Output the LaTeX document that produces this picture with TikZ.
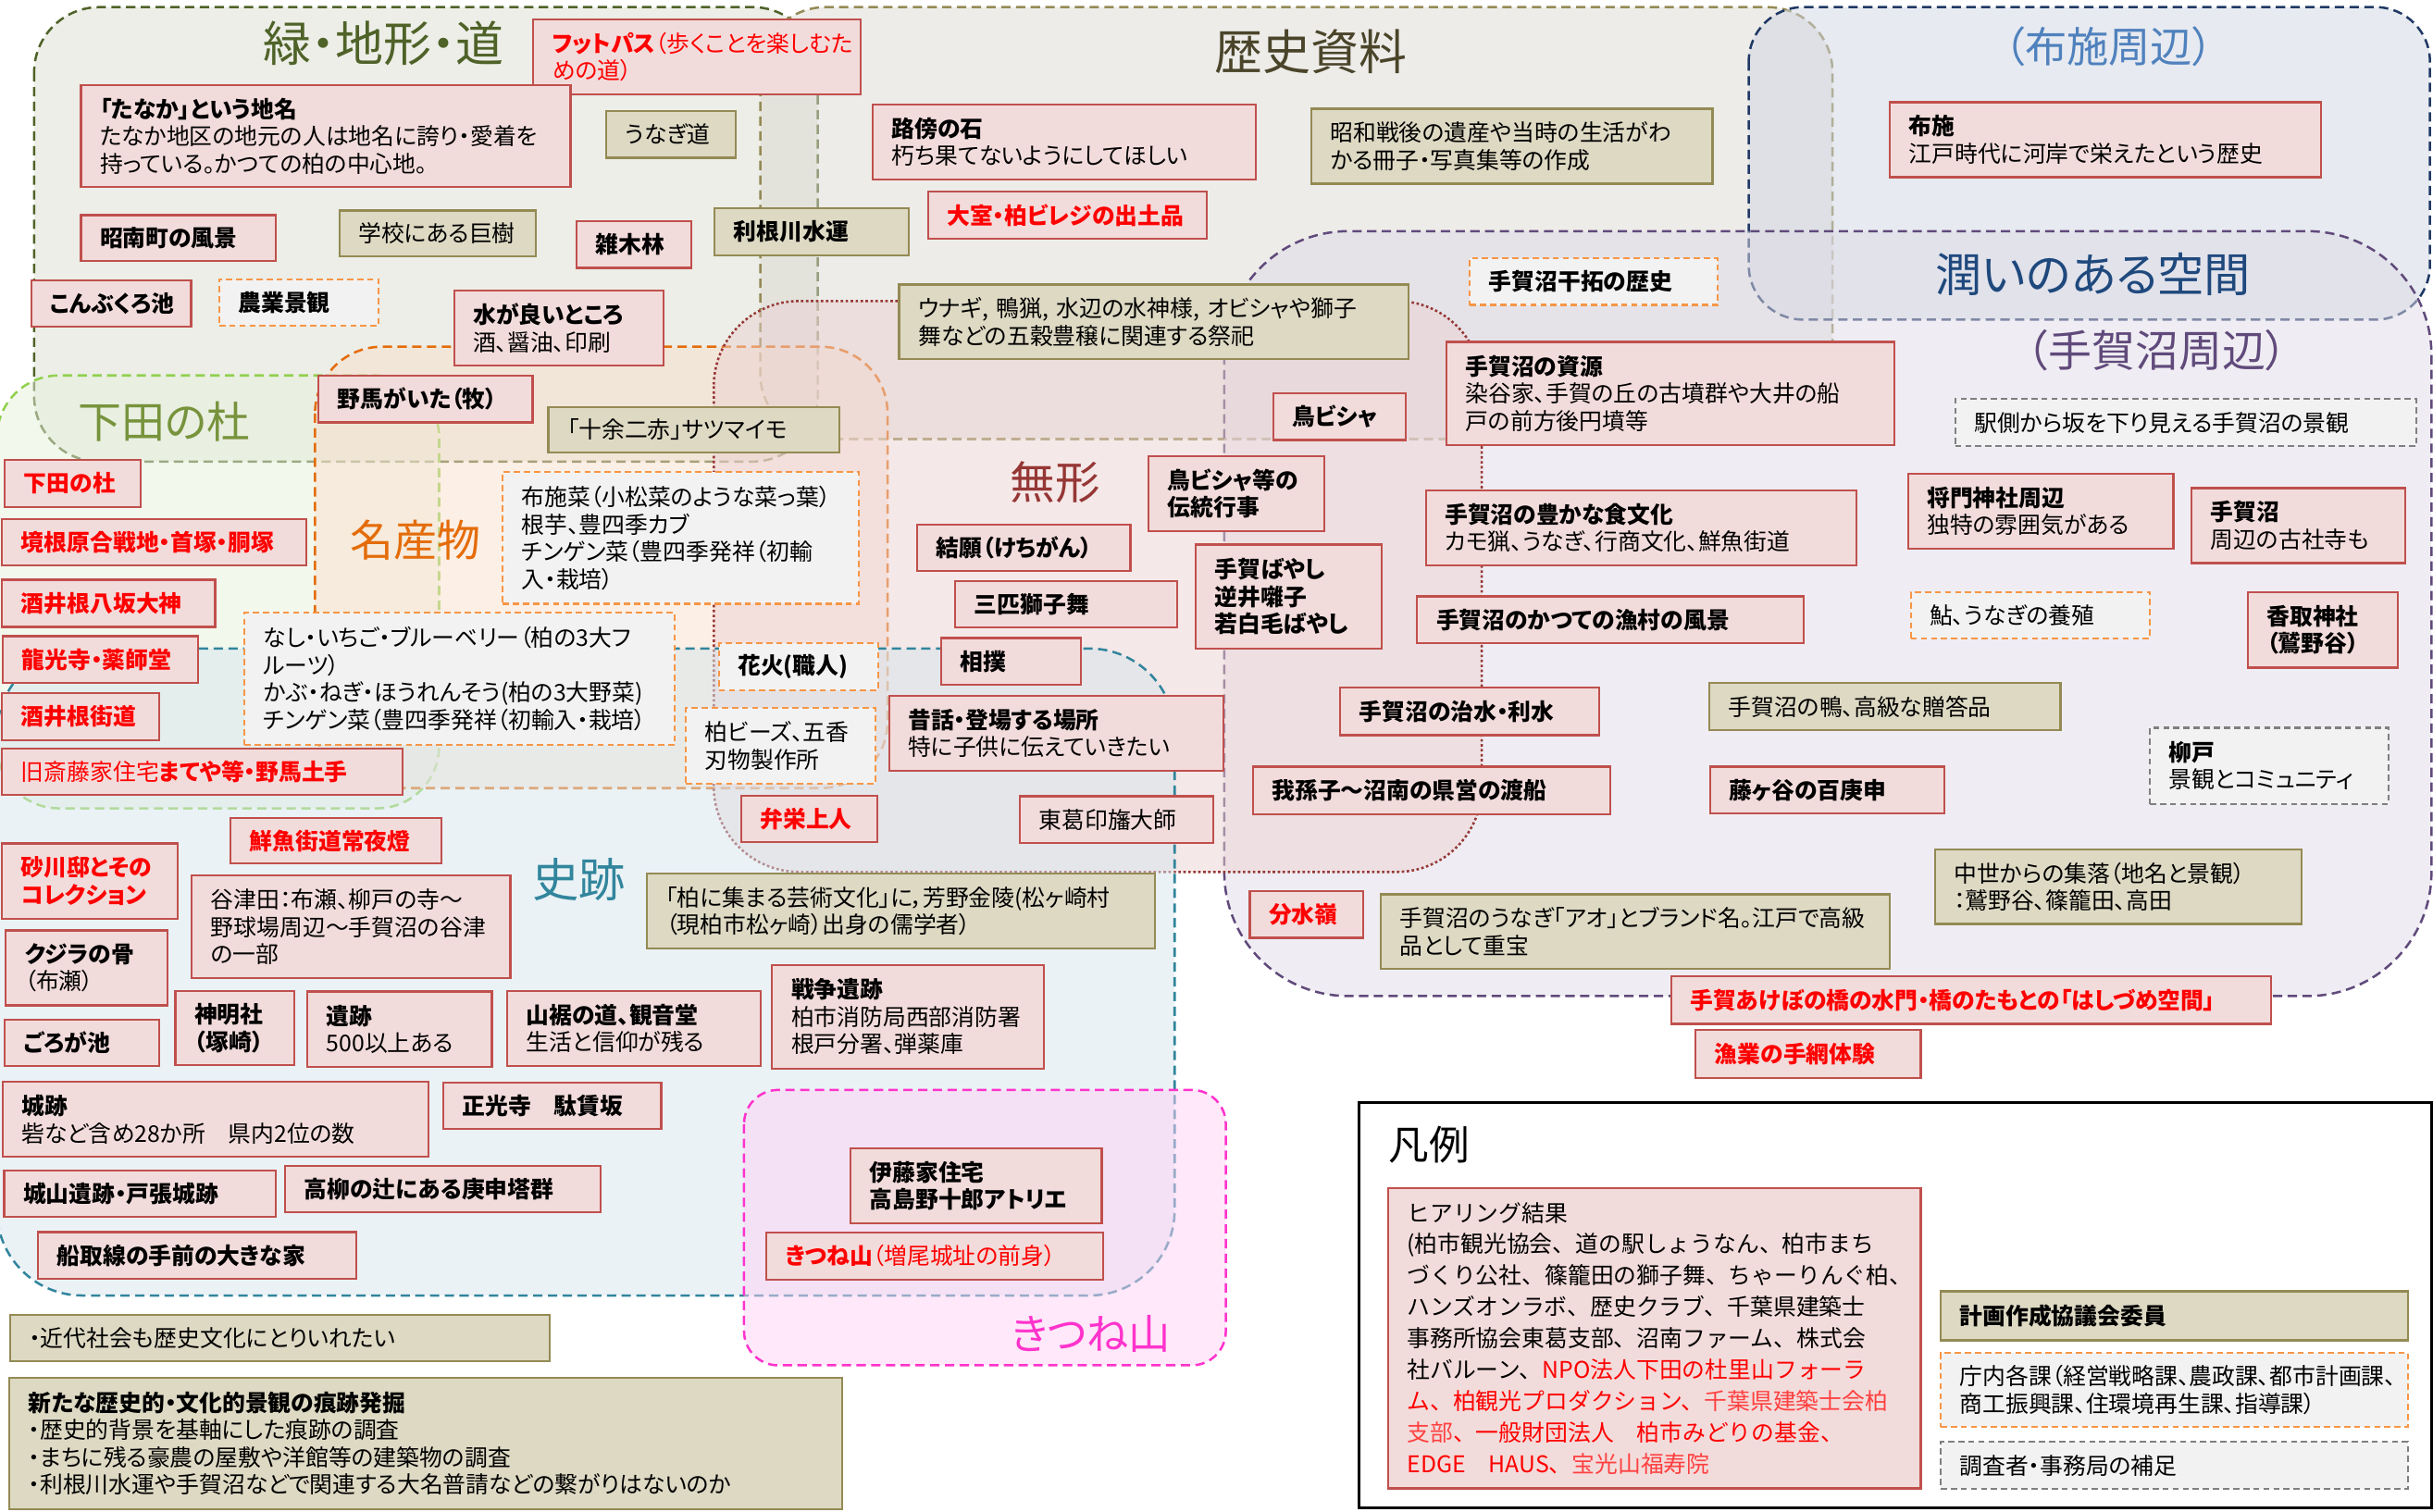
\documentclass[tikz,border=0pt]{standalone}
\usepackage{fontspec}
\setmainfont{Noto Sans CJK JP}[RawFeature={+palt}]
\newfontfamily\legfont{Noto Sans CJK JP}
\definecolor{pkfill}{HTML}{F2DCDB}
\definecolor{pkline}{HTML}{C0504D}
\definecolor{tnfill}{HTML}{DDD9C3}
\definecolor{tnline}{HTML}{948A54}
\definecolor{dfill}{HTML}{F2F2F2}
\definecolor{odline}{HTML}{F79646}
\definecolor{gdline}{HTML}{7F7F7F}
\definecolor{redtxt}{HTML}{FF0000}
\definecolor{lredtxt}{HTML}{FF4040}
\definecolor{gfill}{HTML}{D9DDCF}\definecolor{gline}{HTML}{4F6228}
\definecolor{hfill}{HTML}{DBD9D3}\definecolor{hline}{HTML}{948A54}
\definecolor{ffill}{HTML}{CFD5E1}\definecolor{fline}{HTML}{1F3864}
\definecolor{tfill}{HTML}{DFDBE7}\definecolor{tline}{HTML}{604A7B}
\definecolor{sfill}{HTML}{E7F1DB}\definecolor{sline}{HTML}{92D050}
\definecolor{mfill}{HTML}{F9DFCB}\definecolor{mline}{HTML}{E46C0A}
\definecolor{wfill}{HTML}{EBD1D1}\definecolor{wline}{HTML}{953735}
\definecolor{jfill}{HTML}{D5E5ED}\definecolor{jline}{HTML}{31859C}
\definecolor{kfill}{HTML}{FFD1F5}\definecolor{kline}{HTML}{FF33CC}
\definecolor{ttlhist}{HTML}{4A452A}
\definecolor{ttlfuse}{HTML}{4F81BD}
\definecolor{ttluru}{HTML}{1F497D}
\definecolor{ttlshimo}{HTML}{77933C}
\newcommand\fs{\fontsize{14.8}{17.6}\selectfont}
\newcommand\fsleg{\legfont\fontsize{14.8}{20.2}\selectfont}
\tikzset{
 bxbase/.style={anchor=north west, inner xsep=12.3pt, inner ysep=1pt, align=left, line width=1.3pt, font=\fs, text=black},
 pk/.style={bxbase, fill=pkfill, draw=pkline},
 tn/.style={bxbase, fill=tnfill, draw=tnline},
 od/.style={bxbase, fill=dfill, draw=odline, dash pattern=on 4pt off 2.5pt},
 gd/.style={bxbase, fill=dfill, draw=gdline, dash pattern=on 4pt off 2.5pt},
 rd/.style={text=redtxt},
 reg/.style={line width=1.5pt, fill opacity=0.5, dash pattern=on 6pt off 3.5pt},
 ttl/.style={inner sep=0pt},
}
\newcommand\Bx[7]{%
  \pgfmathsetmacro\bxh{#6-#4}%
  \pgfmathsetmacro\bxt{#5-#3-24.6}%
  \node[#2, minimum height=\bxh pt, text width=\bxt pt] (#1) at (#3,#4) {#7};}
\newcommand\Reg[8]{\draw[reg, rounded corners=#5pt, fill=#6, draw=#7, #8] (#1,#2) rectangle (#3,#4);}
\begin{document}
\begin{tikzpicture}[x=1pt,y=-1pt]
\useasboundingbox (0,0) rectangle (1568,974);
\clip (0,0) rectangle (1568,974);
% regions
\Reg{22}{4.6}{527}{297.5}{42}{gfill}{gline}{}
\Reg{490}{4.6}{1181}{283}{42}{hfill}{hline}{}
\Reg{1127}{4.6}{1566}{206}{35}{ffill}{fline}{}
\Reg{789}{149}{1567}{642}{80}{tfill}{tline}{}
\Reg{-2}{242}{283}{521}{40}{sfill}{sline}{}
\Reg{203}{223.5}{572}{508}{43}{mfill}{mline}{}
\Reg{460}{194}{955}{562}{55}{wfill}{wline}{dash pattern=on 1.6pt off 1.6pt}
\Reg{-2}{418}{757}{835}{55}{jfill}{jline}{}
\Reg{479.5}{702.5}{790}{880}{22}{kfill}{kline}{}
% titles
\node[ttl, text=gline, font=\fontsize{31}{31}\selectfont] (tmidori) at (247,28) {緑・地形・道};
\node[ttl, text=ttlhist, font=\fontsize{31}{31}\selectfont] (trekishi) at (845,33) {歴史資料};
\node[ttl, text=ttlfuse, font=\fontsize{27}{27}\selectfont] (tfuse) at (1359,30) {（布施周辺）};
\node[ttl, text=ttluru, font=\fontsize{30}{30}\selectfont] (turu) at (1349,177) {潤いのある空間};
\node[ttl, text=tline, font=\fontsize{28}{28}\selectfont] (ttega) at (1390,226) {（手賀沼周辺）};
\node[ttl, text=ttlshimo, font=\fontsize{28}{28}\selectfont] (tshimoda) at (106,272) {下田の杜};
\node[ttl, text=mline, font=\fontsize{28}{28}\selectfont] (tmeisan) at (268,348) {名産物};
\node[ttl, text=wline, font=\fontsize{29}{29}\selectfont] (tmukei) at (680,311) {無形};
\node[ttl, text=jline, font=\fontsize{30}{30}\selectfont] (tshiseki) at (373,567) {史跡};
\node[ttl, text=kline, font=\fontsize{27}{27}\selectfont] (tkitsune) at (703,860) {きつね山};
% legend frame
\draw[line width=1.8pt] (876,710.5) rectangle (1567,972);
\node[ttl, font=\fontsize{26}{26}\selectfont] (thanrei) at (921,738) {凡例};
% boxes
\Bx{fp}{pk,rd}{343}{12}{554}{60}{{\bfseries フットパス}（歩くことを楽しむた\\めの道）}
\Bx{tanaka}{pk}{51.5}{54}{367}{120}{{\bfseries 「たなか」という地名}\\たなか地区の地元の人は地名に誇り・愛着を\\持っている。かつての柏の中心地。}
\Bx{shonan}{pk}{51.5}{138}{177}{167.5}{\bfseries 昭南町の風景}
\Bx{kyoju}{tn}{218}{135}{344.6}{164.8}{学校にある巨樹}
\Bx{konbu}{pk}{19.6}{180}{122.5}{209.8}{\bfseries こんぶくろ池}
\Bx{nogyo}{od}{140.6}{179.3}{243.5}{209.4}{\bfseries 農業景観}
\Bx{mizu}{pk}{292}{186.6}{427}{235}{{\bfseries 水が良いところ}\\酒、醤油、印刷}
\Bx{noma}{pk}{204.6}{241.5}{342.6}{271.6}{\bfseries 野馬がいた（牧）}
\Bx{jyuyo}{tn}{352.7}{261.6}{540.4}{291}{「十余二赤」サツマイモ}
\Bx{unagimichi}{tn}{390}{71}{473.4}{101}{うなぎ道}
\Bx{zoki}{pk}{371}{142}{445}{172}{\bfseries 雑木林}
\Bx{tone}{tn}{460}{133.7}{585.1}{163.8}{\bfseries 利根川水運}
\Bx{robo}{pk}{561.8}{66.8}{808.5}{115}{{\bfseries 路傍の石}\\朽ち果てないようにしてほしい}
\Bx{omuro}{pk,rd}{597.4}{122.7}{777.1}{153.4}{\bfseries 大室・柏ビレジの出土品}
\Bx{unagi}{tn}{578.8}{182.8}{907}{230.7}{ウナギ,~鴨猟,~水辺の水神様,~オビシャや獅子\\舞などの五穀豊穣に関連する祭祀}
\Bx{showa}{tn}{844.4}{69.4}{1103}{117.7}{昭和戦後の遺産や当時の生活がわ\\かる冊子・写真集等の作成}
\Bx{kantaku}{od}{946.6}{165.8}{1106.5}{195.9}{\bfseries 手賀沼干拓の歴史}
\Bx{fuse}{pk}{1217.4}{65.3}{1495}{113.6}{{\bfseries 布施}\\江戸時代に河岸で栄えたという歴史}
\Bx{tobisha}{pk}{819.8}{252.9}{905.2}{283}{\bfseries 鳥ビシャ}
\Bx{shigen}{pk}{931.5}{219.7}{1220.4}{286}{{\bfseries 手賀沼の資源}\\染谷家、手賀の丘の古墳群や大井の船\\戸の前方後円墳等}
\Bx{ekigawa}{gd}{1259.4}{256.6}{1556.7}{287}{駅側から坂を下り見える手賀沼の景観}
\Bx{masakado}{pk}{1229}{304.7}{1400}{353}{{\bfseries 将門神社周辺}\\独特の雰囲気がある}
\Bx{tegaright}{pk}{1411.7}{314}{1549.3}{362.3}{{\bfseries 手賀沼}\\周辺の古社寺も}
\Bx{shimoda}{pk,rd}{2.5}{296}{90}{326}{\bfseries 下田の杜}
\Bx{sakane}{pk,rd}{0.75}{333.7}{197}{364}{\bfseries 境根原合戦地・首塚・胴塚}
\Bx{yasaka}{pk,rd}{0.75}{373}{138}{403.4}{\bfseries 酒井根八坂大神}
\Bx{ryuko}{pk,rd}{1.25}{409.4}{126.8}{439.4}{\bfseries 龍光寺・薬師堂}
\Bx{kaido}{pk,rd}{0.75}{446.3}{102}{476.3}{\bfseries 酒井根街道}
\Bx{saito}{pk,rd}{0.75}{482}{259}{511.6}{旧斎藤家住宅{\bfseries まてや等・野馬土手}}
\Bx{fusena}{od}{323.3}{303.7}{553}{388.5}{布施菜（小松菜のような菜っ葉）\\根芋、豊四季カブ\\チンゲン菜（豊四季発祥（初輸\\入・栽培）}
\Bx{nashi}{od}{156.9}{394.4}{434.3}{479.4}{なし・いちご・ブルーベリー（柏の3大フ\\ルーツ）\\かぶ・ねぎ・ほうれんそう(柏の3大野菜)\\チンゲン菜（豊四季発祥（初輸入・栽培）}
\Bx{hanabi}{od}{462.6}{414}{565.5}{444.2}{\bfseries 花火(職人)}
\Bx{beads}{od}{441.3}{455.6}{563.8}{504.3}{柏ビーズ、五香\\刃物製作所}
\Bx{kechi}{pk}{590.6}{337.4}{727.9}{367.5}{\bfseries 結願（けちがん）}
\Bx{sanbiki}{pk}{615}{374}{758}{403.8}{\bfseries 三匹獅子舞}
\Bx{sumo}{pk}{606}{410.6}{696}{440.7}{\bfseries 相撲}
\Bx{dento}{pk}{739.5}{293.3}{853}{341.6}{\bfseries 鳥ビシャ等の\\伝統行事}
\Bx{hayashi}{pk}{770}{350.3}{889.6}{417.2}{\bfseries 手賀ばやし\\逆井囃子\\若白毛ばやし}
\Bx{mukashi}{pk}{572.3}{447.7}{788}{496}{{\bfseries 昔話・登場する場所}\\特に子供に伝えていきたい}
\Bx{benei}{pk,rd}{477}{512.2}{564.8}{542.3}{\bfseries 弁栄上人}
\Bx{daishi}{pk}{656.6}{512.6}{781.4}{542.7}{東葛印旛大師}
\Bx{shoku}{pk}{918.2}{315.5}{1196}{364}{{\bfseries 手賀沼の豊かな食文化}\\カモ猟、うなぎ、行商文化、鮮魚街道}
\Bx{gyoson}{pk}{912.7}{383.7}{1161.7}{414}{\bfseries 手賀沼のかつての漁村の風景}
\Bx{chisui}{pk}{863}{442.7}{1030.2}{473.2}{\bfseries 手賀沼の治水・利水}
\Bx{tosen}{pk}{806.8}{493.5}{1037.2}{524}{\bfseries 我孫子～沼南の県営の渡船}
\Bx{ayu}{od}{1230.8}{381}{1384.8}{411}{鮎、うなぎの養殖}
\Bx{katori}{pk}{1448}{381}{1544.6}{429.7}{\bfseries 香取神社\\（鷲野谷）}
\Bx{kamo}{tn}{1101}{439.6}{1327.3}{470}{手賀沼の鴨、高級な贈答品}
\Bx{yanagido}{gd}{1384.8}{468.4}{1538.9}{517.4}{{\bfseries 柳戸}\\景観とコミュニティ}
\Bx{koshin}{pk}{1101.5}{493.5}{1252.5}{523.6}{\bfseries 藤ヶ谷の百庚申}
\Bx{chusei}{tn}{1246.3}{546.8}{1482.6}{594.9}{中世からの集落（地名と景観）\\：鷲野谷、篠籠田、高田}
\Bx{bunsui}{pk,rd}{804.8}{573.8}{878}{603.8}{\bfseries 分水嶺}
\Bx{ao}{tn}{889.4}{575.8}{1217.4}{624}{手賀沼のうなぎ「アオ」とブランド名。江戸で高級\\品として重宝}
\Bx{akebono}{pk,rd}{1076.4}{628.7}{1462.9}{659.3}{\bfseries 手賀あけぼの橋の水門・橋のたもとの「はしづめ空間」}
\Bx{teami}{pk,rd}{1092.2}{663.4}{1237.2}{694}{\bfseries 漁業の手網体験}
\Bx{joyato}{pk,rd}{148}{526.5}{283.6}{556}{\bfseries 鮮魚街道常夜燈}
\Bx{sunakawa}{pk,rd}{0.75}{543}{113.7}{591.4}{\bfseries 砂川邸とその\\コレクション}
\Bx{yatsuda}{pk}{123}{563.8}{328.3}{630}{谷津田：布瀬、柳戸の寺～\\野球場周辺～手賀沼の谷津\\の一部}
\Bx{geijutsu}{tn}{416.2}{562.4}{743.7}{610.7}{「柏に集まる芸術文化」に，芳野金陵(松ヶ崎村\\（現柏市松ヶ崎）出身の儒学者）}
\Bx{kujira}{pk}{3}{599}{107.4}{647.4}{{\bfseries クジラの骨}\\（布瀬）}
\Bx{shinmei}{pk}{112.4}{638}{188.8}{686}{\bfseries 神明社\\（塚崎）}
\Bx{iseki}{pk}{197.5}{638.4}{316.3}{687}{{\bfseries 遺跡}\\500以上ある}
\Bx{yamasuso}{pk}{326.3}{638}{489.5}{686.5}{{\bfseries 山裾の道、観音堂}\\生活と信仰が残る}
\Bx{senso}{pk}{497}{621.4}{672.2}{688}{{\bfseries 戦争遺跡}\\柏市消防局西部消防署\\根戸分署、弾薬庫}
\Bx{goroga}{pk}{2.5}{656.6}{102}{686.5}{\bfseries ごろが池}
\Bx{shiro}{pk}{1.25}{696.5}{275.3}{745}{{\bfseries 城跡}\\砦など含め28か所　県内2位の数}
\Bx{shoko}{pk}{284.9}{697}{425.5}{727}{\bfseries 正光寺　駄賃坂}
\Bx{shiroyama}{pk}{2}{753.7}{177}{783.6}{\bfseries 城山遺跡・戸張城跡}
\Bx{takayanagi}{pk}{183.2}{750.8}{386.5}{780.7}{\bfseries 高柳の辻にある庚申塔群}
\Bx{funatori}{pk}{23.8}{793.5}{229.2}{823.5}{\bfseries 船取線の手前の大きな家}
\Bx{ito}{pk}{547.5}{739.4}{709.4}{788}{\bfseries 伊藤家住宅\\高島野十郎アトリエ}
\Bx{kitsune}{pk,rd}{493.2}{794}{710.4}{824}{{\bfseries きつね山}（増尾城址の前身）}
\Bx{kindai}{tn}{5.8}{846.8}{353.4}{876.7}{・近代社会も歴史文化にとりいれたい}
\Bx{arata}{tn}{5.5}{887.5}{542.2}{972}{{\bfseries 新たな歴史的・文化的景観の痕跡発掘}\\・歴史的背景を基軸にした痕跡の調査\\・まちに残る豪農の屋敷や洋館等の建築物の調査\\・利根川水運や手賀沼などで関連する大名普請などの繋がりはないのか}
\Bx{hearing}{pk,font=\fsleg}{893.9}{765}{1237.2}{958.7}{ヒアリング結果\\(柏市観光協会、道の駅しょうなん、柏市まち\\づくり公社、篠籠田の獅子舞、ちゃーりんぐ柏、\\ハンズオンラボ、歴史クラブ、千葉県建築士\\事務所協会東葛支部、沼南ファーム、株式会\\社バルーン、\textcolor{redtxt}{NPO法人下田の杜里山フォーラ}\\\textcolor{redtxt}{ム、柏観光プロダクション、}\textcolor{lredtxt}{千葉県建築士会柏}\\\textcolor{lredtxt}{支部}\textcolor{redtxt}{、一般財団法人　柏市みどりの基金、}\\\textcolor{redtxt}{EDGE　HAUS、}\textcolor{lredtxt}{宝光山福寿院}}
\Bx{keikaku}{tn}{1250}{831.7}{1551.3}{863.3}{\bfseries 計画作成協議会委員}
\Bx{chonai}{od}{1250}{871.4}{1551.3}{918.9}{庁内各課（経営戦略課、農政課、都市計画課、\\商工振興課、住環境再生課、指導課）}
\Bx{chosa}{gd}{1250}{928.8}{1551.3}{959}{調査者・事務局の補足}
\end{tikzpicture}
\end{document}
